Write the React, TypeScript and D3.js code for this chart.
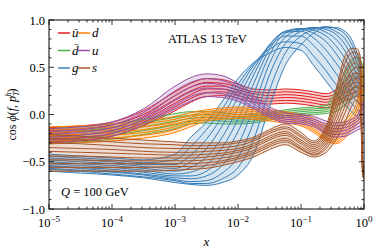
import React from 'react';
import * as d3 from 'd3';

// log10(x) grid shared by every curve
const LX = [-5, -4.5, -4, -3.5, -3, -2.75, -2.5, -2.25, -2, -1.75, -1.5, -1.25, -1, -0.8, -0.6, -0.45, -0.3, -0.2, -0.12, -0.06, -0.02, 0];

const UBAR = [
  [-0.14, -0.12, -0.08, 0.04, 0.24, 0.33, 0.38, 0.37, 0.32, 0.27, 0.26, 0.27, 0.26, 0.24, 0.22, 0.26, 0.36, 0.42, 0.44, 0.42, 0.4, 0.38],
  [-0.17, -0.15, -0.11, 0.0, 0.2, 0.29, 0.34, 0.33, 0.29, 0.24, 0.23, 0.24, 0.23, 0.21, 0.19, 0.22, 0.31, 0.37, 0.39, 0.37, 0.35, 0.33],
  [-0.2, -0.18, -0.14, -0.03, 0.16, 0.25, 0.3, 0.3, 0.26, 0.22, 0.2, 0.21, 0.2, 0.18, 0.16, 0.19, 0.27, 0.32, 0.34, 0.32, 0.3, 0.28],
  [-0.23, -0.21, -0.17, -0.06, 0.12, 0.21, 0.27, 0.27, 0.23, 0.19, 0.17, 0.18, 0.17, 0.15, 0.13, 0.16, 0.23, 0.27, 0.29, 0.27, 0.25, 0.23],
  [-0.26, -0.24, -0.2, -0.09, 0.08, 0.17, 0.23, 0.24, 0.2, 0.16, 0.14, 0.15, 0.14, 0.12, 0.1, 0.13, 0.19, 0.22, 0.24, 0.22, 0.2, 0.18],
  [-0.29, -0.27, -0.23, -0.12, 0.04, 0.13, 0.19, 0.2, 0.17, 0.13, 0.11, 0.12, 0.11, 0.09, 0.07, 0.1, 0.15, 0.17, 0.19, 0.17, 0.15, 0.13],
];

const DBAR = [
  [-0.15, -0.13, -0.1, -0.05, 0.01, 0.03, 0.03, 0.02, 0.0, 0.0, 0.02, 0.05, 0.07, 0.08, 0.1, 0.25, 0.45, 0.55, 0.6, 0.58, 0.52, 0.48],
  [-0.19, -0.17, -0.14, -0.09, -0.03, -0.01, 0.0, -0.01, -0.03, -0.02, 0.0, 0.03, 0.05, 0.06, 0.07, 0.18, 0.36, 0.46, 0.5, 0.48, 0.42, 0.38],
  [-0.23, -0.21, -0.18, -0.13, -0.07, -0.04, -0.03, -0.04, -0.06, -0.05, -0.02, 0.01, 0.03, 0.04, 0.05, 0.12, 0.27, 0.36, 0.4, 0.38, 0.33, 0.29],
  [-0.27, -0.25, -0.22, -0.17, -0.11, -0.07, -0.06, -0.07, -0.08, -0.07, -0.04, -0.01, 0.01, 0.02, 0.03, 0.07, 0.18, 0.26, 0.3, 0.28, 0.24, 0.2],
  [-0.31, -0.29, -0.26, -0.21, -0.15, -0.1, -0.09, -0.1, -0.1, -0.09, -0.06, -0.03, -0.01, 0.0, 0.01, 0.03, 0.1, 0.16, 0.2, 0.19, 0.16, 0.12],
];

const GLUON = [
  [-0.42, -0.44, -0.46, -0.48, -0.42, -0.24, -0.08, 0.14, 0.38, 0.55, 0.65, 0.71, 0.68, 0.52, 0.35, 0.22, 0.1, 0.03, -0.02, -0.05, -0.07, -0.08],
  [-0.44, -0.46, -0.48, -0.51, -0.48, -0.34, -0.16, 0.06, 0.32, 0.54, 0.69, 0.77, 0.75, 0.62, 0.46, 0.32, 0.2, 0.12, 0.06, 0.02, 0.0, -0.01],
  [-0.46, -0.48, -0.5, -0.53, -0.53, -0.43, -0.26, -0.02, 0.26, 0.52, 0.72, 0.83, 0.83, 0.73, 0.58, 0.44, 0.3, 0.21, 0.14, 0.1, 0.07, 0.06],
  [-0.48, -0.5, -0.52, -0.55, -0.57, -0.5, -0.36, -0.12, 0.18, 0.48, 0.74, 0.87, 0.88, 0.81, 0.68, 0.55, 0.41, 0.3, 0.22, 0.17, 0.14, 0.13],
  [-0.5, -0.52, -0.54, -0.57, -0.6, -0.56, -0.45, -0.24, 0.07, 0.42, 0.73, 0.88, 0.9, 0.86, 0.77, 0.65, 0.5, 0.38, 0.29, 0.24, 0.21, 0.2],
  [-0.52, -0.54, -0.56, -0.59, -0.63, -0.61, -0.53, -0.35, -0.05, 0.33, 0.69, 0.88, 0.91, 0.89, 0.83, 0.73, 0.59, 0.46, 0.36, 0.3, 0.27, 0.26],
  [-0.54, -0.56, -0.58, -0.61, -0.65, -0.65, -0.6, -0.45, -0.18, 0.22, 0.63, 0.86, 0.91, 0.91, 0.87, 0.8, 0.67, 0.54, 0.43, 0.36, 0.32, 0.31],
  [-0.55, -0.57, -0.6, -0.63, -0.67, -0.68, -0.65, -0.54, -0.32, 0.08, 0.54, 0.82, 0.9, 0.92, 0.9, 0.85, 0.74, 0.62, 0.5, 0.42, 0.37, 0.36],
  [-0.57, -0.59, -0.61, -0.64, -0.69, -0.71, -0.7, -0.62, -0.45, -0.08, 0.42, 0.75, 0.88, 0.92, 0.92, 0.88, 0.8, 0.69, 0.56, 0.47, 0.42, 0.4],
  [-0.58, -0.6, -0.63, -0.66, -0.7, -0.73, -0.73, -0.68, -0.56, -0.26, 0.26, 0.65, 0.83, 0.9, 0.93, 0.91, 0.85, 0.75, 0.62, 0.52, 0.46, 0.44],
  [-0.6, -0.62, -0.64, -0.67, -0.72, -0.74, -0.75, -0.72, -0.64, -0.42, 0.08, 0.52, 0.74, 0.86, 0.92, 0.92, 0.88, 0.8, 0.67, 0.56, 0.5, 0.48],
];

const DOWN = [
  [-0.13, -0.12, -0.1, -0.07, -0.02, 0.02, 0.05, 0.07, 0.08, 0.07, 0.05, 0.03, 0.0, -0.04, -0.12, -0.15, -0.06, 0.02, 0.12, 0.3, 0.5, 0.56],
  [-0.16, -0.15, -0.13, -0.1, -0.05, -0.01, 0.03, 0.05, 0.06, 0.05, 0.03, 0.01, -0.02, -0.07, -0.15, -0.18, -0.1, -0.02, 0.06, 0.2, 0.38, 0.45],
  [-0.19, -0.18, -0.16, -0.13, -0.08, -0.03, 0.01, 0.03, 0.04, 0.03, 0.01, -0.01, -0.04, -0.1, -0.18, -0.21, -0.13, -0.05, 0.02, 0.12, 0.25, 0.32],
  [-0.22, -0.21, -0.19, -0.16, -0.1, -0.06, -0.01, 0.01, 0.02, 0.01, -0.01, -0.03, -0.06, -0.12, -0.21, -0.24, -0.16, -0.08, -0.02, 0.06, 0.15, 0.2],
  [-0.25, -0.24, -0.22, -0.19, -0.13, -0.08, -0.03, -0.01, 0.0, -0.01, -0.03, -0.05, -0.08, -0.15, -0.24, -0.27, -0.19, -0.11, -0.05, 0.0, 0.06, 0.1],
  [-0.28, -0.27, -0.25, -0.22, -0.16, -0.1, -0.05, -0.03, -0.02, -0.03, -0.05, -0.07, -0.1, -0.17, -0.26, -0.29, -0.22, -0.14, -0.08, -0.04, 0.0, 0.02],
  [-0.31, -0.3, -0.28, -0.25, -0.19, -0.13, -0.07, -0.05, -0.04, -0.05, -0.07, -0.09, -0.12, -0.19, -0.28, -0.31, -0.25, -0.17, -0.11, -0.07, -0.05, -0.04],
];

const UP = [
  [-0.15, -0.13, -0.08, 0.06, 0.3, 0.39, 0.43, 0.41, 0.33, 0.2, 0.08, 0.02, 0.0, -0.02, -0.07, -0.09, -0.08, -0.05, -0.02, 0.05, 0.12, 0.15],
  [-0.18, -0.16, -0.11, 0.02, 0.25, 0.34, 0.38, 0.36, 0.29, 0.17, 0.05, -0.01, -0.02, -0.05, -0.1, -0.12, -0.11, -0.08, -0.05, 0.0, 0.06, 0.09],
  [-0.21, -0.19, -0.14, -0.02, 0.2, 0.29, 0.33, 0.31, 0.25, 0.14, 0.03, -0.03, -0.04, -0.07, -0.13, -0.15, -0.14, -0.11, -0.08, -0.04, 0.0, 0.03],
  [-0.24, -0.22, -0.17, -0.05, 0.15, 0.24, 0.28, 0.27, 0.21, 0.11, 0.01, -0.05, -0.06, -0.09, -0.16, -0.18, -0.17, -0.14, -0.11, -0.08, -0.05, -0.03],
  [-0.27, -0.25, -0.2, -0.08, 0.1, 0.19, 0.23, 0.22, 0.17, 0.08, -0.01, -0.07, -0.08, -0.11, -0.19, -0.21, -0.2, -0.17, -0.14, -0.12, -0.1, -0.08],
  [-0.3, -0.28, -0.23, -0.11, 0.06, 0.14, 0.19, 0.18, 0.14, 0.06, -0.03, -0.09, -0.1, -0.13, -0.21, -0.24, -0.23, -0.2, -0.17, -0.15, -0.14, -0.13],
];

const STRANGE = [
  [-0.21, -0.23, -0.25, -0.27, -0.29, -0.3, -0.3, -0.3, -0.28, -0.24, -0.16, -0.1, -0.19, -0.28, -0.12, 0.25, 0.62, 0.7, 0.7, 0.62, -0.5, -0.58],
  [-0.25, -0.27, -0.29, -0.31, -0.32, -0.33, -0.33, -0.32, -0.3, -0.26, -0.18, -0.13, -0.22, -0.3, -0.15, 0.2, 0.55, 0.65, 0.66, 0.58, -0.52, -0.59],
  [-0.3, -0.31, -0.33, -0.35, -0.36, -0.36, -0.36, -0.35, -0.33, -0.28, -0.2, -0.15, -0.24, -0.32, -0.18, 0.14, 0.47, 0.58, 0.61, 0.54, -0.54, -0.6],
  [-0.35, -0.36, -0.37, -0.39, -0.4, -0.4, -0.39, -0.38, -0.36, -0.31, -0.23, -0.18, -0.27, -0.34, -0.21, 0.08, 0.4, 0.52, 0.55, 0.48, -0.55, -0.61],
  [-0.39, -0.4, -0.41, -0.42, -0.43, -0.43, -0.42, -0.41, -0.38, -0.33, -0.25, -0.2, -0.29, -0.36, -0.24, 0.02, 0.32, 0.46, 0.5, 0.43, -0.57, -0.63],
  [-0.44, -0.44, -0.45, -0.46, -0.46, -0.46, -0.45, -0.43, -0.4, -0.35, -0.27, -0.22, -0.31, -0.38, -0.27, -0.04, 0.25, 0.39, 0.44, 0.38, -0.59, -0.64],
  [-0.48, -0.48, -0.49, -0.49, -0.49, -0.49, -0.48, -0.46, -0.43, -0.38, -0.3, -0.25, -0.34, -0.4, -0.3, -0.1, 0.17, 0.32, 0.38, 0.32, -0.61, -0.65],
  [-0.52, -0.52, -0.52, -0.52, -0.52, -0.52, -0.51, -0.49, -0.45, -0.4, -0.32, -0.27, -0.36, -0.42, -0.33, -0.15, 0.09, 0.25, 0.31, 0.26, -0.63, -0.66],
  [-0.56, -0.56, -0.56, -0.56, -0.55, -0.55, -0.54, -0.51, -0.47, -0.42, -0.34, -0.29, -0.37, -0.43, -0.36, -0.2, 0.02, 0.18, 0.25, 0.2, -0.64, -0.67],
  [-0.6, -0.6, -0.6, -0.6, -0.59, -0.58, -0.57, -0.54, -0.5, -0.45, -0.37, -0.32, -0.4, -0.45, -0.4, -0.27, -0.08, 0.08, 0.15, 0.1, -0.66, -0.68],
];

// drawing order = matplotlib order; legend fills column by column
const FLAVORS = [
  { key: 'ubar', label: 'ū', color: '#e41a1c', curves: UBAR },
  { key: 'dbar', label: 'd̄', color: '#4daf4a', curves: DBAR },
  { key: 'g', label: 'g', color: '#377eb8', curves: GLUON },
  { key: 'd', label: 'd', color: '#ff7f00', curves: DOWN },
  { key: 'u', label: 'u', color: '#984ea3', curves: UP },
  { key: 's', label: 's', color: '#a65628', curves: STRANGE },
];

const Y_TICKS = [-1, -0.5, 0, 0.5, 1];
const X_DECADES = [-5, -4, -3, -2, -1, 0];

const W = 374;
const H = 252;
const M = { left: 49, right: 10, top: 20, bottom: 43 };
const FONT = '"Liberation Serif", "DejaVu Serif", serif';

export default function App() {
  const x = d3.scaleLog().domain([1e-5, 1]).range([M.left, W - M.right]);
  const y = d3.scaleLinear().domain([-1, 1]).range([H - M.bottom, M.top]);
  const x0 = M.left, x1 = W - M.right, y0 = M.top, y1 = H - M.bottom;

  const line = d3.line<number>()
    .x((_, i) => x(Math.pow(10, LX[i])))
    .y(d => y(d))
    .curve(d3.curveMonotoneX);

  const band = (curves: number[][]) => d3.area<number>()
    .x(i => x(Math.pow(10, LX[i])))
    .y0(i => y(d3.min(curves, c => c[i]) as number))
    .y1(i => y(d3.max(curves, c => c[i]) as number))
    .curve(d3.curveMonotoneX)(LX.map((_, i) => i));

  const minorX = x.ticks().filter(t => Math.abs(Math.log10(t) - Math.round(Math.log10(t))) > 1e-6);
  const minorY = d3.range(-10, 11).map(v => v / 10);

  const ticks: React.ReactNode[] = [];
  minorX.forEach((t, i) => {
    ticks.push(<line key={'mxb' + i} x1={x(t)} x2={x(t)} y1={y1} y2={y1 - 2.5} />);
    ticks.push(<line key={'mxt' + i} x1={x(t)} x2={x(t)} y1={y0} y2={y0 + 2.5} />);
  });
  X_DECADES.forEach(d => {
    const px = x(Math.pow(10, d));
    ticks.push(<line key={'Mxb' + d} x1={px} x2={px} y1={y1} y2={y1 - 5} />);
    ticks.push(<line key={'Mxt' + d} x1={px} x2={px} y1={y0} y2={y0 + 5} />);
  });
  minorY.forEach((v, i) => {
    const major = Y_TICKS.some(t => Math.abs(t - v) < 1e-6);
    const len = major ? 5 : 2.5;
    ticks.push(<line key={'yl' + i} x1={x0} x2={x0 + len} y1={y(v)} y2={y(v)} />);
    ticks.push(<line key={'yr' + i} x1={x1} x2={x1 - len} y1={y(v)} y2={y(v)} />);
  });

  const legendOrder = [0, 3, 1, 4, 2, 5];

  return (
    <div style={{ position: 'absolute', left: 0, top: 0 }}>
      <svg width={W} height={H} style={{ display: 'block', background: '#fff' }} fontFamily={FONT}>
        <defs>
          <clipPath id="plot-clip">
            <rect x={x0} y={y0} width={x1 - x0} height={y1 - y0} />
          </clipPath>
        </defs>
        <g clipPath="url(#plot-clip)">
          {FLAVORS.map(f => (
            <g key={f.key}>
              <path d={band(f.curves) || ''} fill={f.color} fillOpacity={0.2} stroke="none" />
              {f.curves.map((c, i) => (
                <path key={i} d={line(c) || ''} fill="none" stroke={f.color} strokeWidth={1} />
              ))}
            </g>
          ))}
        </g>

        <rect x={x0} y={y0} width={x1 - x0} height={y1 - y0} fill="none" stroke="#000" strokeWidth={1} />
        <g stroke="#000" strokeWidth={0.8}>{ticks}</g>

        {Y_TICKS.map(t => (
          <text key={t} x={x0 - 4} y={y(t) + 4.5} textAnchor="end" fontSize={12.5}>
            {(t < 0 ? '\u2212' : '') + Math.abs(t).toFixed(1)}
          </text>
        ))}
        {X_DECADES.map(d => (
          <text key={d} x={x(Math.pow(10, d))} y={227} textAnchor="middle" fontSize={12.5}>
            10<tspan dy={-5} fontSize={9}>{d === 0 ? '0' : '\u2212' + Math.abs(d)}</tspan>
          </text>
        ))}
        <text x={(x0 + x1) / 2} y={246} textAnchor="middle" fontSize={13} fontStyle="italic">x</text>

        <text transform={`translate(16, ${(y0 + y1) / 2}) rotate(-90)`} textAnchor="middle" fontSize={12}>
          cos <tspan fontStyle="italic">ϕ</tspan>(<tspan fontStyle="italic">f</tspan>, <tspan fontStyle="italic">p</tspan>
          <tspan fontSize={8} fontStyle="italic" dy={3}>T</tspan>
          <tspan fontSize={8} fontStyle="italic" dx={-5} dy={-8}>h</tspan>
          <tspan dy={5}>)</tspan>
        </text>

        <text x={168} y={43} fontSize={12.5}>ATLAS 13 TeV</text>
        <text x={61} y={196} fontSize={12.5}>
          <tspan fontStyle="italic">Q</tspan> = 100 GeV
        </text>

        {legendOrder.map((fi, k) => {
          const f = FLAVORS[fi];
          const col = k % 2;
          const row = Math.floor(k / 2);
          const lx0 = col === 0 ? 58 : 78;
          const ly = 33 + row * 17.5;
          return (
            <g key={f.key}>
              <line x1={lx0} x2={lx0 + 12} y1={ly} y2={ly} stroke={f.color} strokeWidth={1.5} />
              <text x={lx0 + 14} y={ly + 4} fontSize={13} fontStyle="italic">{f.label}</text>
            </g>
          );
        })}
      </svg>
    </div>
  );
}
